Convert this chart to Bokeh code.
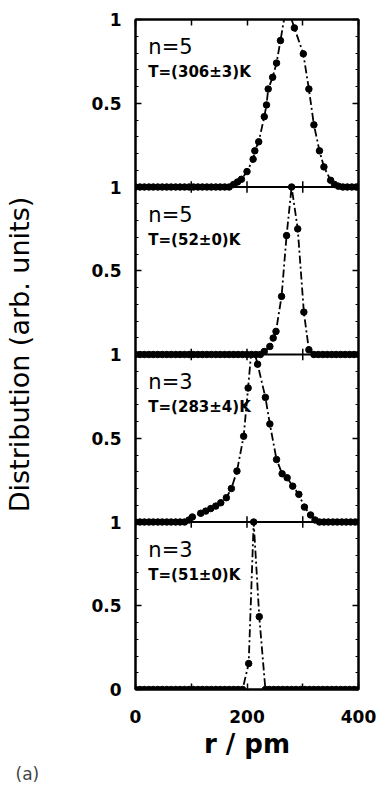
import math
from bokeh.plotting import figure
from bokeh.models import Range1d, FixedTicker, LinearAxis, Label, Span
from bokeh.embed import file_html
from bokeh.resources import INLINE

# ---------------- data (top panel first) ----------------
n_labels = ["n=5", "n=5", "n=3", "n=3"]
t_labels = ["T=(306\u00b13)K", "T=(52\u00b10)K", "T=(283\u00b14)K", "T=(51\u00b10)K"]

r_p1 = [0, 8, 16, 24, 32, 40, 48, 56, 64, 72, 80, 88, 96, 104, 112, 120, 128, 136, 144, 152, 160, 168,
        176, 183, 190, 200, 211, 214, 221, 231, 235, 238, 246, 253, 260, 271, 285, 301, 311, 320, 330,
        338, 350, 357, 364, 372, 380, 388, 396, 400]
v_p1 = [0, 0, 0, 0, 0, 0, 0, 0, 0, 0, 0, 0, 0, 0, 0, 0, 0, 0, 0, 0, 0, 0,
        0.015, 0.03, 0.046, 0.092, 0.166, 0.216, 0.27, 0.42, 0.49, 0.585, 0.655, 0.74, 0.874, 1.09,
        0.95, 0.795, 0.585, 0.371, 0.216, 0.12, 0.04, 0.015, 0.005, 0, 0, 0, 0, 0]

r_p2 = [0, 8, 16, 24, 32, 40, 48, 56, 64, 72, 80, 88, 96, 104, 112, 120, 128, 136, 144, 152, 160, 168,
        176, 184, 192, 200, 208, 216, 224,
        231, 241, 247, 252, 262, 271, 280, 291, 302, 311,
        320, 328, 336, 344, 352, 360, 368, 376, 384, 392, 400]
v_p2 = [0, 0, 0, 0, 0, 0, 0, 0, 0, 0, 0, 0, 0, 0, 0, 0, 0, 0, 0, 0, 0, 0, 0, 0, 0, 0, 0, 0, 0,
        0.018, 0.048, 0.098, 0.138, 0.347, 0.71, 1.0, 0.75, 0.253, 0.028,
        0, 0, 0, 0, 0, 0, 0, 0, 0, 0, 0]

r_p3 = [0, 8, 16, 24, 32, 40, 48, 56, 64, 72, 80, 88,
        96, 102, 117, 126, 135, 144, 153, 163, 172, 182, 194, 202, 209, 219, 233, 241, 253, 263,
        272, 282, 293, 303, 314, 322,
        330, 338, 346, 354, 362, 370, 378, 386, 394, 400]
v_p3 = [0, 0, 0, 0, 0, 0, 0, 0, 0, 0, 0, 0,
        0.012, 0.03, 0.052, 0.065, 0.08, 0.095, 0.115, 0.145, 0.2, 0.304, 0.512, 0.80, 1.07, 0.942,
        0.744, 0.585, 0.373, 0.288, 0.264, 0.214, 0.165, 0.089, 0.042, 0.012,
        0, 0, 0, 0, 0, 0, 0, 0, 0, 0]

r_p4 = [0, 8, 16, 24, 32, 40, 48, 56, 64, 72, 80, 88, 96, 104, 112, 120, 128, 136, 144, 152, 160, 168,
        176, 184, 192,
        203, 212, 222, 233,
        240, 248, 256, 264, 272, 280, 288, 296, 304, 312, 320, 328, 336, 344, 352, 360, 368, 376, 384,
        392, 400]
v_p4 = [0, 0, 0, 0, 0, 0, 0, 0, 0, 0, 0, 0, 0, 0, 0, 0, 0, 0, 0, 0, 0, 0, 0, 0, 0,
        0.155, 1.0, 0.435, 0.0,
        0, 0, 0, 0, 0, 0, 0, 0, 0, 0, 0, 0, 0, 0, 0, 0, 0, 0, 0, 0, 0]

x_ticks = [0, 100, 200, 300, 400]
x_tick_text = {0: "0", 100: "", 200: "200", 300: "", 400: "400"}
y_ticks_panel = [0, 0.5, 1]

panels = [(r_p1, v_p1), (r_p2, v_p2), (r_p3, v_p3), (r_p4, v_p4)]
n_pan = len(panels)

FONT = "DejaVu Sans"

p = figure(width=378, height=784, output_backend="svg", toolbar_location=None,
           x_range=Range1d(0, 400), y_range=Range1d(0, n_pan),
           min_border_left=135, min_border_right=20, min_border_top=19, min_border_bottom=95,
           title="(a)", title_location="below")
p.xgrid.visible = False
p.ygrid.visible = False
p.outline_line_color = "black"
p.outline_line_width = 2
p.background_fill_color = "white"
p.border_fill_color = "white"
p.title.text_font = FONT
p.title.text_font_size = "17px"
p.title.text_font_style = "normal"
p.title.align = "left"
p.title.offset = -120
p.title.standoff = 0

# y ticks: each panel 0..1
yt = []
ylab = {}
for k in range(n_pan):
    for t in y_ticks_panel:
        val = k + t
        if val in yt:
            continue
        yt.append(val)
        ylab[val] = "0" if val == 0 else ("0.5" if t == 0.5 else "1")
y_minor = [i / 10 for i in range(0, n_pan * 10 + 1) if i % 5 != 0]


def style_axis(ax):
    ax.axis_line_width = 2
    ax.axis_line_color = "black"
    ax.major_tick_out = 0
    ax.minor_tick_out = 0
    ax.major_tick_line_width = 1.5
    ax.minor_tick_line_width = 1.2
    ax.major_label_text_font = FONT
    ax.major_label_text_font_style = "bold"
    ax.major_label_text_font_size = "17px"
    ax.major_label_text_color = "black"


# left
yl = p.yaxis[0]
yl.ticker = FixedTicker(ticks=yt, minor_ticks=y_minor)
yl.major_label_overrides = ylab
style_axis(yl)
yl.major_tick_in = 6
yl.minor_tick_in = 3
yl.major_label_standoff = 14
yl.axis_label = "Distribution (arb. units)"
yl.axis_label_text_font = FONT
yl.axis_label_text_font_size = "27px"
yl.axis_label_text_font_style = "normal"
yl.axis_label_text_color = "black"
yl.axis_label_standoff = 53

# bottom
xb = p.xaxis[0]
xb.ticker = FixedTicker(ticks=x_ticks, minor_ticks=[])
xb.major_label_overrides = x_tick_text
style_axis(xb)
xb.major_tick_in = 6
xb.minor_tick_in = 0
xb.major_label_standoff = 20
xb.axis_label = "r / pm"
xb.axis_label_text_font = FONT
xb.axis_label_text_font_size = "26px"
xb.axis_label_text_font_style = "bold"
xb.axis_label_text_color = "black"
xb.axis_label_standoff = 3

# right
yr = LinearAxis(ticker=FixedTicker(ticks=yt, minor_ticks=y_minor),
                major_label_overrides={t: "" for t in yt})
style_axis(yr)
yr.major_tick_in = 6
yr.minor_tick_in = 3
yr.major_label_standoff = 0
p.add_layout(yr, "right")

# top
xt = LinearAxis(ticker=FixedTicker(ticks=x_ticks, minor_ticks=[]),
                major_label_overrides={t: "" for t in x_ticks})
style_axis(xt)
xt.major_tick_in = 6
xt.minor_tick_in = 0
xt.major_label_standoff = 0
p.add_layout(xt, "above")

# panel separators and their x ticks
for b in range(1, n_pan):
    p.add_layout(Span(location=b, dimension="width", line_color="black", line_width=2))
    inner = [t for t in x_ticks if 0 < t < 400]
    p.segment(x0=inner, x1=inner, y0=[b - 0.035] * len(inner), y1=[b + 0.035] * len(inner),
              line_color="black", line_width=1.5)


def clip_line(rs, vs, top=1.0):
    xs, ys = [], []
    for i in range(len(rs)):
        r, v = rs[i], vs[i]
        if i > 0:
            r0, v0 = rs[i - 1], vs[i - 1]
            if (v0 <= top) != (v <= top):
                f = (top - v0) / (v - v0)
                xs.append(r0 + f * (r - r0))
                ys.append(top)
                if v > top:
                    xs.append(float("nan"))
                    ys.append(float("nan"))
        if v <= top:
            xs.append(r)
            ys.append(v)
    return xs, ys


for k, (rs, vs) in enumerate(panels):
    off = n_pan - 1 - k
    lx, ly = clip_line(rs, vs)
    p.line(lx, [y + off for y in ly], line_color="black", line_width=1.8, line_dash="8 3 2 3")
    mx = [r for r, v in zip(rs, vs) if v <= 1.0]
    my = [v + off for r, v in zip(rs, vs) if v <= 1.0]
    p.scatter(mx, my, size=6.5, marker="circle", fill_color="black", line_color="black")
    p.add_layout(Label(x=23, y=off + 0.833, text=n_labels[k], text_font=FONT,
                       text_font_size="21px", text_baseline="middle", text_align="left",
                       text_color="black"))
    p.add_layout(Label(x=23, y=off + 0.684, text=t_labels[k], text_font=FONT,
                       text_font_size="15px", text_font_style="bold", text_baseline="middle",
                       text_align="left", text_color="black"))

open("out.html", "w").write(file_html(p, INLINE))
